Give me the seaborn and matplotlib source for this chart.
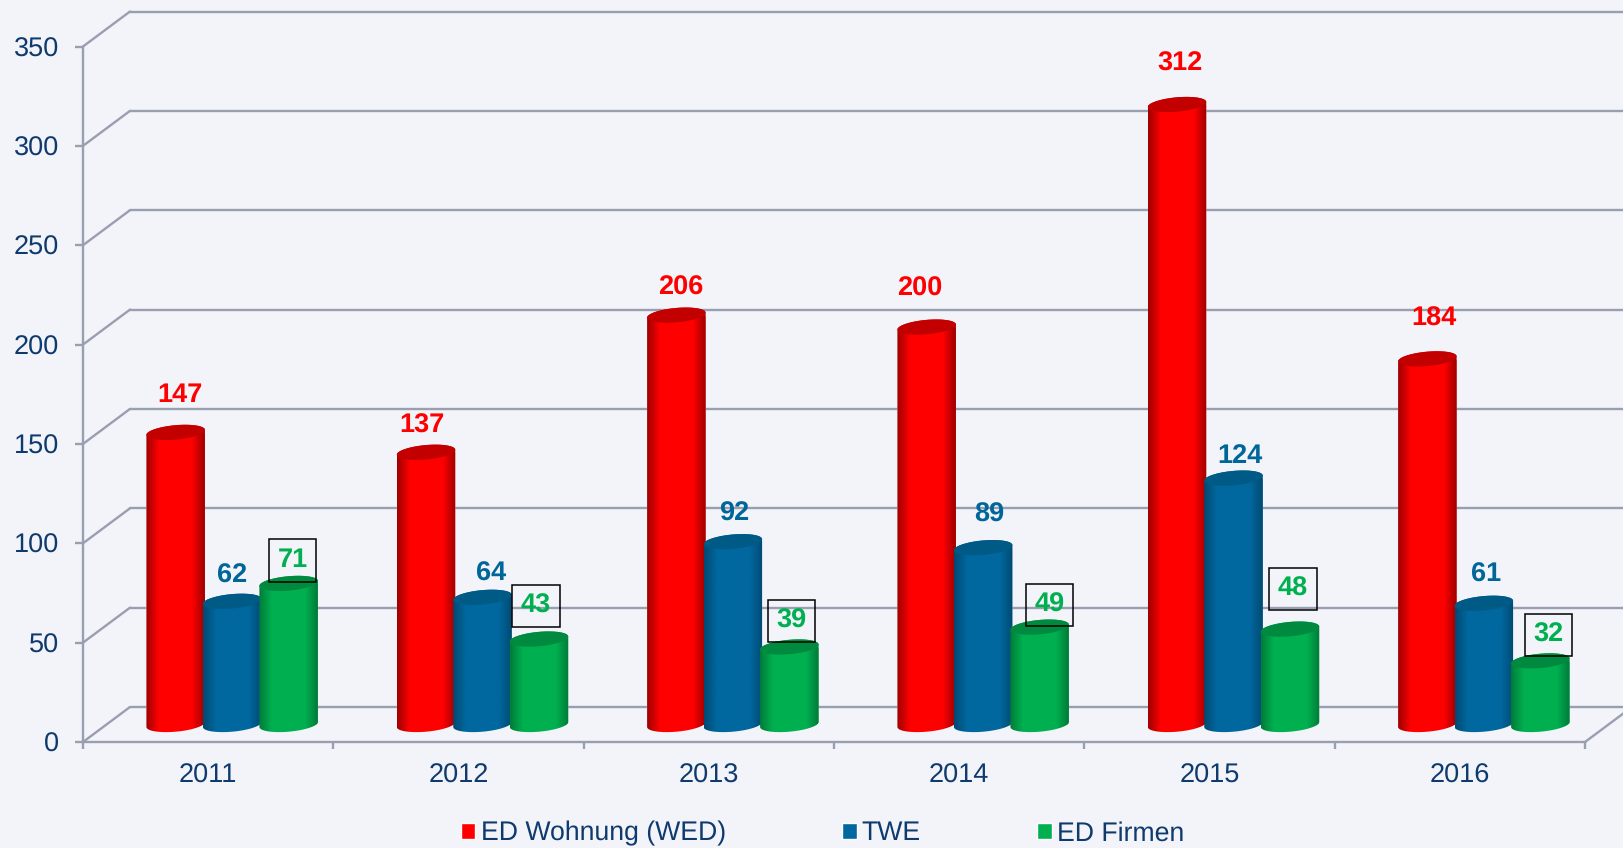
import matplotlib
matplotlib.use("Agg")
import matplotlib.pyplot as plt
from matplotlib.colors import LinearSegmentedColormap
from matplotlib.patches import Polygon
import seaborn as sns
import numpy as np
import pandas as pd

# Values
years = ['2011', '2012', '2013', '2014', '2015', '2016']
series_names = ['ED Wohnung (WED)', 'TWE', 'ED Firmen']
wed = [147, 137, 206, 200, 312, 184]
twe = [62, 64, 92, 89, 124, 61]
firmen = [71, 43, 39, 49, 48, 32]
y_ticks = [0, 50, 100, 150, 200, 250, 300, 350]

colors = ['#FF0000', '#00689F', '#00B050']
darks = ['#9E0000', '#004A72', '#007C39']
tops = ['#C20000', '#005A86', '#008A40']
label_colors = ['#FF0000', '#006699', '#00B050']
text_color = '#0F3A6E'
wall_color = '#999EB0'
bg_color = '#F2F4F9'

# Label offsets from the top of each bar, in pixels
label_offsets = [
    [(4, 37), (-4, 27), (4, 27), (-7, 38), (3, 41), (7, 40)],
    [(0, 26), (9, 24), (1, 28), (6, 33), (6, 22), (2, 29)],
    [(4, 23), (-3, 33), (2, 26), (10, 22), (3, 40), (8, 26)],
]

df = pd.DataFrame({
    'year': years * 3,
    'series': np.repeat(series_names, len(years)),
    'value': wed + twe + firmen,
})

sns.set_theme(style="white")
plt.rcParams['font.family'] = ['Liberation Sans', 'DejaVu Sans']
plt.rcParams['text.hinting'] = 'none'

W, H = 1623, 848
fig = plt.figure(figsize=(W / 100, H / 100), dpi=100, facecolor=bg_color)
ax = fig.add_axes([83 / W, (H - 742) / H, (1585 - 83) / W, (742 - 46.5) / H], facecolor=bg_color)

sns.barplot(data=df, x='year', y='value', hue='series', palette=colors, saturation=1,
            width=0.677, gap=0, ax=ax, zorder=5)

ax.set_xlim(-0.5, 5.5)
ax.set_ylim(0, 350)

px_x = (5.5 + 0.5) / (1585 - 83)  # one pixel in category units
px_y = 350 / (742 - 46.5)  # one pixel in value units
depth_x = 47 * px_x
depth_y = 35 * px_y
floor = 17.5 * px_y  # bars stand in the middle of the floor

# Back wall and side wall lines
for t in y_ticks:
    ax.plot([-0.5, -0.5 + depth_x], [t, t + depth_y], color=wall_color, lw=1.7,
            clip_on=False, zorder=1)
    ax.plot([-0.5 + depth_x, 5.5 + depth_x], [t + depth_y, t + depth_y], color=wall_color,
            lw=1.7, clip_on=False, zorder=1)
ax.plot([5.5, 5.5 + depth_x], [0, depth_y], color=wall_color, lw=1.7, clip_on=False, zorder=1)


def ellipse(cx, cy, a, t):
    # slightly tilted ellipse, right side higher
    b = 7.2 * px_y
    tilt = 2.5 * px_y
    return cx + a * np.cos(t), cy + b * np.sin(t) + tilt * np.cos(t)


# Turn each bar into a cylinder
for s, cont in enumerate(ax.containers):
    cmap = LinearSegmentedColormap.from_list('c' + str(s), [darks[s], colors[s], colors[s], darks[s]])
    grad = np.interp(np.linspace(0, 1, 128), [0, 0.22, 0.78, 1], [0, 1 / 3, 2 / 3, 1]).reshape(1, -1)
    for i, bar in enumerate(cont):
        cx = bar.get_x() + bar.get_width() / 2 + depth_x / 2 + 0.5 * px_x
        a = bar.get_width() / 2 * 1.035  # neighbours overlap a little
        top = bar.get_height() + floor
        bar.set_width(2 * a)
        bar.set_x(cx - a)
        bar.set_y(floor)

        # outline: bottom arc left to right, then top arc right to left
        bx, by = ellipse(cx, floor, a, np.linspace(np.pi, 2 * np.pi, 40))
        tx, ty = ellipse(cx, top, a, np.linspace(0, np.pi, 40))
        outline = Polygon(np.column_stack([np.r_[bx, tx], np.r_[by, ty]]), transform=ax.transData)
        bar.set_clip_path(outline)

        z = 5 + s + i * 0.01
        im = ax.imshow(grad, extent=[cx - a, cx + a, floor - 10 * px_y, top + 10 * px_y], aspect='auto',
                       cmap=cmap, vmin=0, vmax=1, zorder=z, interpolation='bilinear')
        im.set_clip_path(outline)

        ex, ey = ellipse(cx, top, a, np.linspace(0, 2 * np.pi, 80))
        ax.fill(ex, ey, color=tops[s], lw=0, zorder=z + 0.1)

# Value labels
for s, (cont, vals) in enumerate(zip(ax.containers, [wed, twe, firmen])):
    for i, bar in enumerate(cont):
        box = None
        if s == 2:
            box = dict(boxstyle='square,pad=0.32', fc='none', ec='black', lw=1.1)
        ax.annotate(str(vals[i]), xy=(bar.get_x() + bar.get_width() / 2, bar.get_y() + bar.get_height()),
                    xytext=label_offsets[s][i], textcoords='offset pixels', ha='center', va='center',
                    fontsize=19.5, fontweight='bold', color=label_colors[s], bbox=box,
                    annotation_clip=False, zorder=20)

ax.set_xlim(-0.5, 5.5)
ax.set_ylim(0, 350)
ax.grid(False)
ax.set_xlabel('')
ax.set_ylabel('')

# Ticks sit between the years, labels in the middle
ax.set_xticks(np.arange(-0.5, 6, 1))
ax.set_xticklabels([])
ax.set_xticks(np.arange(6), labels=years, minor=True)
ax.tick_params(axis='x', which='major', length=5, width=1.7, color=wall_color, bottom=True)
ax.tick_params(axis='x', which='minor', length=0, pad=15, labelsize=19.5, labelcolor=text_color)
ax.set_yticks(y_ticks)
ax.tick_params(axis='y', length=6, width=1.7, color=wall_color, left=True, pad=11,
               labelsize=19.5, labelcolor=text_color)

sns.despine(ax=ax)
for side in ['left', 'bottom']:
    ax.spines[side].set_color(wall_color)
    ax.spines[side].set_linewidth(1.7)

# Legend along the bottom
handles, labels = ax.get_legend_handles_labels()
leg = ax.legend(handles, labels, ncol=3, frameon=False, fontsize=19.2, labelcolor=text_color,
                handlelength=0.55, handleheight=0.55, handletextpad=0.2, columnspacing=4.35,
                loc='center', bbox_to_anchor=((822.5 - 83) / (1585 - 83), -(833.5 - 742) / (742 - 46.5)),
                borderpad=0, borderaxespad=0)

plt.savefig('out.png', dpi=100, facecolor=bg_color)
